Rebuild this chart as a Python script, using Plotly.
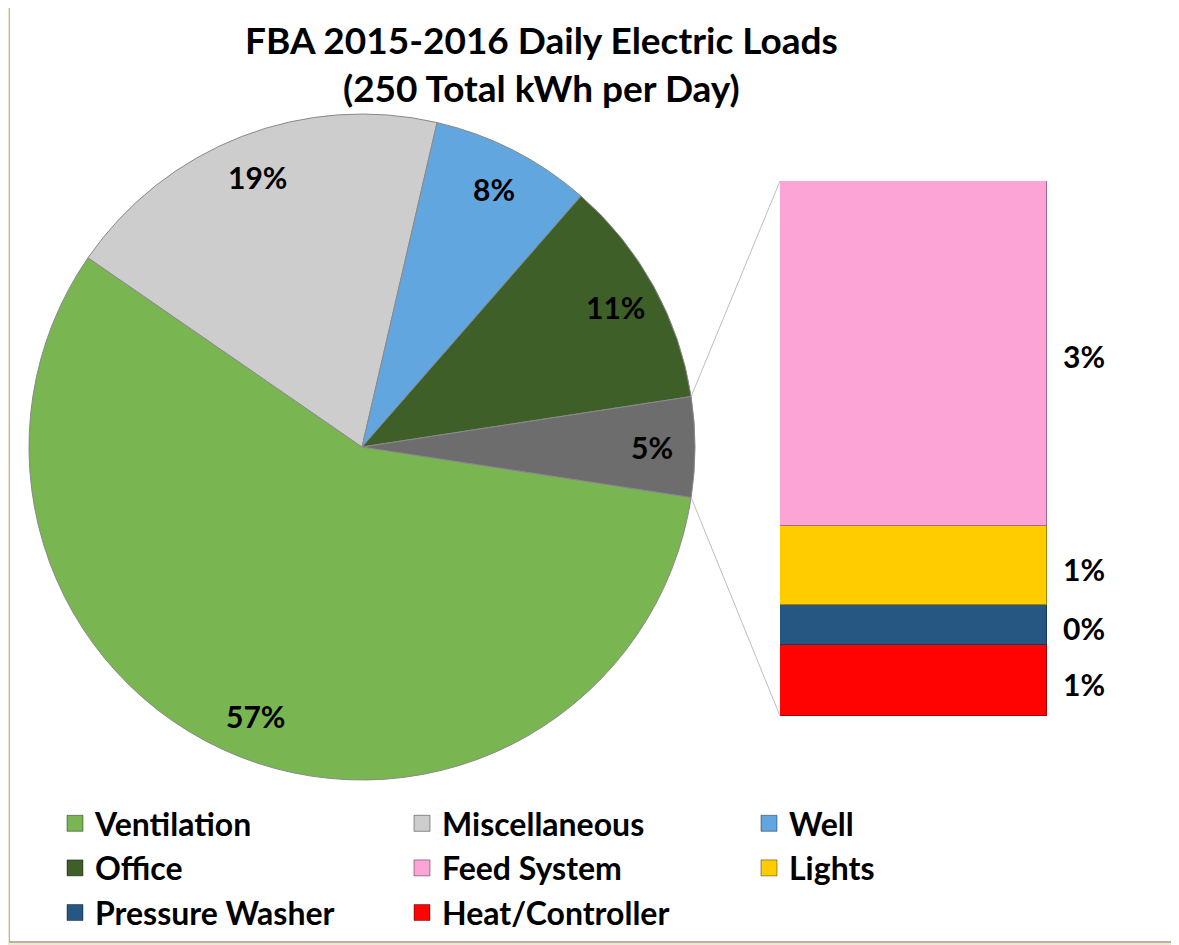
import math
import plotly.graph_objects as go

# Daily electric loads, kWh per day
pie_labels = ["Ventilation", "Miscellaneous", "Well", "Office"]
pie_values = [143.0, 47.5, 19.5, 27.9]
pie_colors = ["#79B550", "#CDCDCD", "#62A6E0", "#3F5F28"]

bar_labels = ["Feed System", "Lights", "Pressure Washer", "Heat/Controller"]
bar_values = [7.8, 1.8, 0.9, 1.6]
bar_colors = ["#FDA4D7", "#FFCC00", "#265682", "#FF0303"]

other_color = "#6D6D6D"

# the page body has an 8px margin, so work in page pixels and shift
OFF = 8
W, H = 1179 - OFF, 945 - OFF
FONT = "Lato"


def px(x):
    return (x - OFF) / W


def py(y):
    return 1 - (y - OFF) / H


total = sum(pie_values) + sum(bar_values)
other = sum(bar_values)

# pie placement (page pixels)
cx, cy, r = 362, 447, 333
pie_dom_x = [px(cx - r), px(cx + r)]
pie_dom_y = [py(cy + r), py(cy - r)]

# bar placement (page pixels)
bx0, bx1, by0, by1 = 780, 1047, 181, 716
bar_dom_x = [px(bx0), px(bx1)]
bar_dom_y = [py(by1), py(by0)]

rotation = 90 + other / total * 180

fig = go.Figure()

all_vals = pie_values + [other]
fig.add_trace(go.Pie(
    labels=pie_labels + ["Other"], values=all_vals,
    marker=dict(colors=pie_colors + [other_color], line=dict(color="#8A8A8A", width=1)),
    sort=False, direction="clockwise", rotation=rotation,
    textinfo="none", hoverinfo="label+percent", showlegend=False,
    domain=dict(x=pie_dom_x, y=pie_dom_y),
))

# stacked bar, bottom to top = reversed list
for lab, val, col in reversed(list(zip(bar_labels, bar_values, bar_colors))):
    fig.add_trace(go.Bar(
        x=[0], y=[val], name=lab, width=1,
        marker=dict(color=col, line=dict(color="rgba(0,0,0,0.35)", width=1)),
        showlegend=False,
    ))

# legend proxies
for i, (lab, col) in enumerate(zip(pie_labels + bar_labels, pie_colors + bar_colors)):
    fig.add_trace(go.Scatter(
        x=[None], y=[None], mode="markers", name=lab,
        marker=dict(symbol="square", size=16, color=col, line=dict(color="rgba(0,0,0,0.4)", width=1)),
        legendrank=i + 1,
    ))

ann = []
lab_font = dict(family=FONT, size=30, color="black", weight=700)
# pie percentage labels at slice mid-angles
cum = 0
for v in all_vals:
    theta = math.radians(rotation + 360 * (cum + v / 2) / total)
    cum += v
    rr = 0.87 * r
    ann.append(dict(x=px(cx + rr * math.sin(theta)), y=py(cy - rr * math.cos(theta)),
                    xref="paper", yref="paper", xanchor="center", yanchor="middle",
                    text=f"{v / total * 100:.0f}%", showarrow=False, font=lab_font))

# bar labels
cum = 0
for lab, v in reversed(list(zip(bar_labels, bar_values))):
    ann.append(dict(x=0.5, y=cum + v / 2, xref="x", yref="y", xanchor="left", yanchor="middle",
                    xshift=14, yshift=-3, text=f"{v / total * 100:.0f}%", showarrow=False, font=lab_font))
    cum += v

# title
ann.append(dict(x=px(541), y=py(63), xref="paper", yref="paper", xanchor="center", yanchor="middle",
                text=f"FBA 2015-2016 Daily Electric Loads<br>({total:.0f} Total kWh per Day)",
                showarrow=False, font=dict(family=FONT, size=37, color="black", weight=700)))

# connector lines from the "other" slice edges to the bar corners
half = math.radians(other / total * 180)
ex = cx + r * math.cos(half)
ey_top = cy - r * math.sin(half)
ey_bot = cy + r * math.sin(half)

shapes = [
    dict(type="rect", xref="paper", yref="paper", x0=px(9), x1=1.01, y0=py(943), y1=1.01,
         fillcolor="#B7B2A2", line=dict(width=0), layer="below"),
    dict(type="rect", xref="paper", yref="paper", x0=px(10), x1=1.01, y0=py(941), y1=1.01,
         fillcolor="white", line=dict(width=0), layer="below"),
    dict(type="line", xref="paper", yref="paper", x0=px(ex), y0=py(ey_top),
         x1=bar_dom_x[0], y1=bar_dom_y[1], line=dict(color="#BDBDBD", width=1)),
    dict(type="line", xref="paper", yref="paper", x0=px(ex), y0=py(ey_bot),
         x1=bar_dom_x[0], y1=bar_dom_y[0], line=dict(color="#BDBDBD", width=1)),
]

fig.update_layout(
    width=W, height=H,
    margin=dict(l=0, r=0, t=0, b=0),
    paper_bgcolor="#EFE8D3", plot_bgcolor="rgba(0,0,0,0)",
    barmode="stack", bargap=0,
    xaxis=dict(domain=bar_dom_x, range=[-0.5, 0.5], visible=False, fixedrange=True),
    yaxis=dict(domain=bar_dom_y, range=[0, other], visible=False, fixedrange=True),
    legend=dict(orientation="h", x=px(55), y=py(796), xanchor="left", yanchor="top",
                entrywidth=302, traceorder="normal",
                font=dict(family=FONT, size=32, color="black", weight=700),
                bgcolor="rgba(0,0,0,0)"),
    annotations=ann, shapes=shapes,
    showlegend=True,
)

fig.write_html("out.html")
